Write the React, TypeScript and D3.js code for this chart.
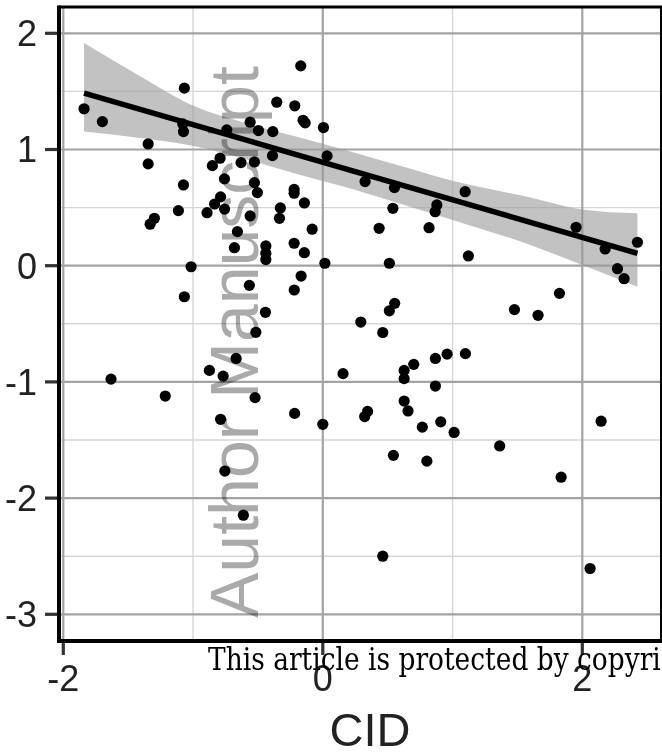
import React, { useEffect, useRef } from 'react';
import * as d3 from 'd3';

const cidValues = [
  -1.840, -1.699, -1.067, -1.079, -1.074, -1.346, -1.346, -1.074, -1.113, -1.298,
  -1.331, -1.015, -1.067, -0.851, -0.792, -0.740, -0.560, -0.496, -0.385, -0.355,
  -0.216, -0.170, -0.152, -0.136, 0.005, -0.388, -0.527, -0.630, -0.758, -0.527,
  -0.504, -0.788, -0.834, -0.757, -0.892, -0.560, -0.658, -0.681, -0.439, -0.439,
  -0.439, -0.566, -0.442, -0.221, -0.221, -0.142, -0.327, -0.334, -0.082, -0.221,
  -0.142, 0.016, -0.167, -0.220, 0.033, -0.516, -0.668, -0.874, -0.768, -1.214,
  -0.522, -0.788, -0.217, 0.000, -0.755, -1.632, -0.612, 0.326, 0.552, 0.540,
  0.879, 0.866, 1.097, 0.434, 0.819, 1.122, 0.513, 1.952, 2.425, 2.176,
  2.271, 2.322, 0.554, 0.513, 0.293, 1.477, 1.659, 1.824, 0.462, 0.156,
  0.627, 0.627, 0.701, 0.868, 0.958, 1.099, 0.868, 0.627, 0.657, 0.345,
  0.323, 0.767, 0.909, 1.012, 1.363, 0.544, 0.802, 1.837, 2.145, 0.462,
  2.060,
];

const outcomeValues = [
  1.350, 1.240, 1.528, 1.220, 1.154, 1.048, 0.876, 0.695, 0.474, 0.408,
  0.357, -0.009, -0.267, 0.861, 0.925, 1.169, 1.235, 1.163, 1.154, 1.407,
  1.376, 1.720, 1.251, 1.229, 1.189, 0.947, 0.893, 0.887, 0.747, 0.715,
  0.629, 0.592, 0.531, 0.487, 0.456, 0.428, 0.293, 0.155, 0.170, 0.107,
  0.053, -0.169, -0.401, 0.656, 0.624, 0.540, 0.497, 0.408, 0.314, 0.193,
  0.112, 0.021, -0.089, -0.209, 0.945, -0.573, -0.798, -0.901, -0.950, -1.122,
  -1.135, -1.322, -1.271, -1.365, -1.767, -0.976, -2.147, 0.724, 0.672, 0.494,
  0.523, 0.465, 0.637, 0.322, 0.327, 0.084, 0.021, 0.331, 0.202, 0.144,
  -0.026, -0.112, -0.324, -0.388, -0.485, -0.378, -0.427, -0.238, -0.575, -0.929,
  -0.901, -0.972, -0.849, -0.798, -0.761, -0.757, -1.036, -1.165, -1.250, -1.254,
  -1.298, -1.389, -1.344, -1.435, -1.551, -1.632, -1.682, -1.820, -1.338, -2.500,
  -2.606,
];

// fitted trend line and its confidence band
const fitX = [-1.840, 2.425];
const fitY = [1.485, 0.106];
const bandX = [-1.840, -1.408, -0.997, -0.599, -0.200, 0.200, 0.596, 1.000, 1.600, 2.000, 2.425];
const bandHi = [1.916, 1.630, 1.376, 1.229, 1.109, 0.988, 0.860, 0.730, 0.587, 0.484, 0.451];
const bandLo = [1.154, 1.100, 1.031, 0.919, 0.790, 0.669, 0.533, 0.394, 0.178, 0.006, -0.181];

const xMajorTicks = [-2, 0, 2];
const xMinorTicks = [-1, 1];
const yMajorTicks = [-3, -2, -1, 0, 1, 2];
const yMinorTicks = [-2.5, -1.5, -0.5, 0.5, 1.5];
const xTitle = 'CID';
const watermarkText = 'Author Manuscript';
const footerText = 'This article is protected by copyright. All rights reserved.';
const footerVisible = 'This article is protected by copyri';

export default function App() {
  const W = 662;
  const H = 753;
  const footerRef = useRef<SVGTextElement | null>(null);

  const x = d3.scaleLinear().domain([-2, 2]).range([63.3, 582.3]);
  const y = d3.scaleLinear().domain([-3, 2]).range([614.3, 33.3]);
  const panel = { l: 59, t: 7, r: 661.5, b: 641 };

  const band = bandX.map((v, i) => ({ v, lo: bandLo[i], hi: bandHi[i] }));
  const fit = fitX.map((v, i) => ({ v, fit: fitY[i] }));

  const area = d3
    .area<{ v: number; lo: number; hi: number }>()
    .x((d) => x(d.v))
    .y0((d) => y(d.lo))
    .y1((d) => y(d.hi))
    .curve(d3.curveMonotoneX);
  const line = d3
    .line<{ v: number; fit: number }>()
    .x((d) => x(d.v))
    .y((d) => y(d.fit));

  useEffect(() => {
    const el = footerRef.current;
    if (!el) return;
    try {
      const w = el.getSubStringLength(0, footerVisible.length);
      const k = 453 / w;
      el.setAttribute('transform', `translate(208,670) scale(${k},1)`);
    } catch (e) {
      /* ignore */
    }
  }, []);

  const axisFont = "'Liberation Sans', Arial, Helvetica, sans-serif";

  return (
    <div style={{ position: 'absolute', left: 0, top: 0, width: W, height: H, overflow: 'hidden', background: '#fff' }}>
      <svg width={W} height={H} style={{ display: 'block' }}>
        <defs>
          <clipPath id="panelClip">
            <rect x={panel.l} y={panel.t} width={panel.r - panel.l} height={panel.b - panel.t} />
          </clipPath>
        </defs>
        <rect x={panel.l} y={panel.t} width={panel.r - panel.l} height={panel.b - panel.t} fill="#fff" />
        <g clipPath="url(#panelClip)">
          {yMinorTicks.map((t) => (
            <line key={'ym' + t} x1={panel.l} x2={panel.r} y1={y(t)} y2={y(t)} stroke="#d6d6d6" strokeWidth={1.4} />
          ))}
          {xMinorTicks.map((t) => (
            <line key={'xm' + t} x1={x(t)} x2={x(t)} y1={panel.t} y2={panel.b} stroke="#d6d6d6" strokeWidth={1.4} />
          ))}
          {yMajorTicks.map((t) => (
            <line key={'yM' + t} x1={panel.l} x2={panel.r} y1={y(t)} y2={y(t)} stroke="#a3a3a3" strokeWidth={2.2} />
          ))}
          {xMajorTicks.map((t) => (
            <line key={'xM' + t} x1={x(t)} x2={x(t)} y1={panel.t} y2={panel.b} stroke="#a3a3a3" strokeWidth={2.2} />
          ))}
          <path d={area(band) || ''} fill="#999999" fillOpacity={0.6} />
          {cidValues.map((v, i) => (
            <circle key={'p' + i} cx={x(v)} cy={y(outcomeValues[i])} r={5.6} fill="#000" />
          ))}
          <path d={line(fit) || ''} fill="none" stroke="#000" strokeWidth={5.5} />
        </g>
        {/* panel border */}
        <line x1={panel.l} x2={panel.r + 2} y1={panel.t} y2={panel.t} stroke="#000" strokeWidth={3} />
        <line x1={panel.r} x2={panel.r} y1={panel.t} y2={panel.b} stroke="#000" strokeWidth={3} />
        <line x1={panel.l} x2={panel.l} y1={panel.t - 1.5} y2={panel.b + 2} stroke="#000" strokeWidth={4} />
        <line x1={panel.l - 2} x2={panel.r + 2} y1={panel.b} y2={panel.b} stroke="#000" strokeWidth={4} />
        {/* ticks */}
        {yMajorTicks.map((t) => (
          <line key={'yt' + t} x1={45} x2={57} y1={y(t)} y2={y(t)} stroke="#333" strokeWidth={3.2} />
        ))}
        {xMajorTicks.map((t) => (
          <line key={'xt' + t} x1={x(t)} x2={x(t)} y1={643} y2={655} stroke="#333" strokeWidth={3.2} />
        ))}
        {yMajorTicks.map((t) => (
          <text key={'yl' + t} x={37} y={y(t)} dy="0.36em" textAnchor="end" fontFamily={axisFont} fontSize={36} fill="#222">
            {t}
          </text>
        ))}
        {xMajorTicks.map((t) => (
          <text key={'xl' + t} x={x(t)} y={691} textAnchor="middle" fontFamily={axisFont} fontSize={36} fill="#222">
            {t}
          </text>
        ))}
        <text x={370} y={746} textAnchor="middle" fontFamily={axisFont} fontSize={47} fill="#222">
          {xTitle}
        </text>
        {/* watermark */}
        <text
          transform="translate(258,618) rotate(-90)"
          fontFamily={axisFont}
          fontSize={68}
          fill="#aaaaaa"
          style={{ mixBlendMode: 'multiply' }}
        >
          {watermarkText}
        </text>
        <text
          ref={footerRef}
          transform="translate(208,670)"
          fontFamily="'DejaVu Serif', 'Liberation Serif', serif"
          fontSize={31}
          fill="#000"
        >
          {footerText}
        </text>
      </svg>
    </div>
  );
}
